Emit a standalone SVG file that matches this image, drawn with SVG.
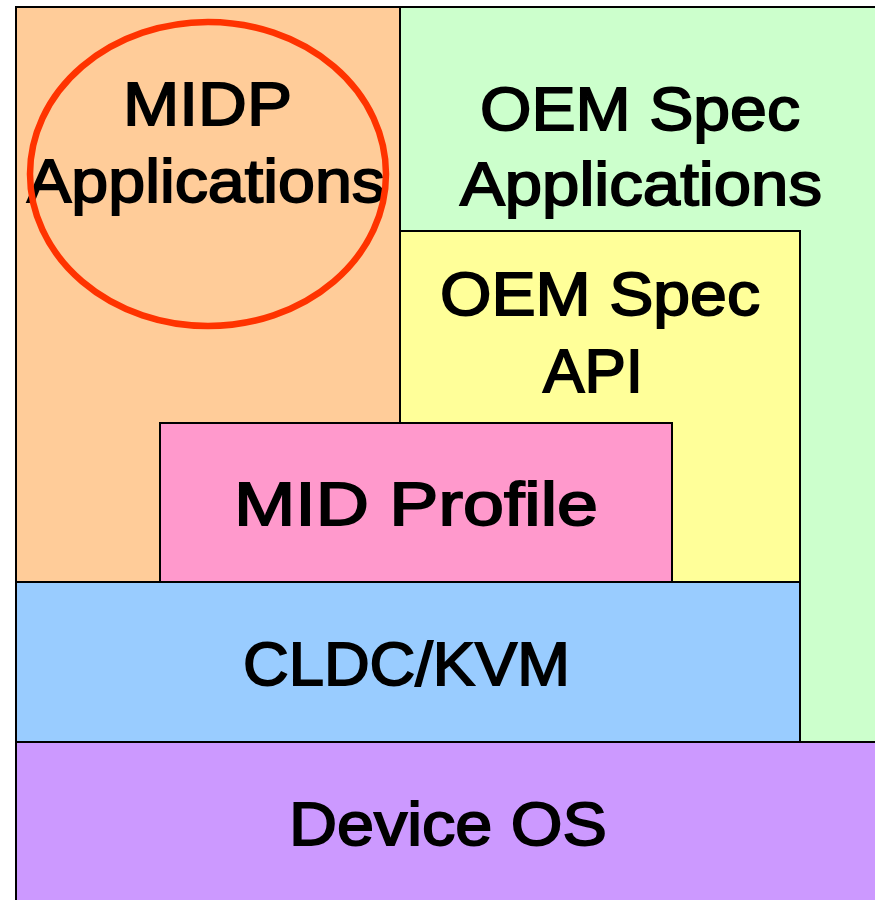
<svg xmlns="http://www.w3.org/2000/svg" width="875" height="900" viewBox="0 0 875 900">
<style>
.box{stroke:#000;stroke-width:2}
.t{font-family:"Liberation Sans",Arial,sans-serif;font-size:62px;fill:#000;stroke:#000;stroke-width:1.8}
</style>
<rect width="875" height="900" fill="#fff"/>
<g id="midp-apps">
<rect class="box" x="16" y="7" width="384" height="575" fill="#ffcc99"/>
</g>
<g id="oem-apps">
<rect class="box" x="400" y="7" width="480" height="735" fill="#ccffcc"/>
<text class="t" x="480" y="130" textLength="320" lengthAdjust="spacingAndGlyphs">OEM Spec</text>
<text class="t" x="460" y="205" textLength="362" lengthAdjust="spacingAndGlyphs">Applications</text>
</g>
<g id="oem-api">
<rect class="box" x="400" y="231" width="400" height="351" fill="#ffff99"/>
<text class="t" x="440" y="315" textLength="320" lengthAdjust="spacingAndGlyphs">OEM Spec</text>
<text class="t" x="543" y="392" textLength="100" lengthAdjust="spacingAndGlyphs">API</text>
</g>
<g id="mid-profile">
<rect class="box" x="160" y="423" width="512" height="159" fill="#ff99cc"/>
<text class="t" x="234" y="525" textLength="364" lengthAdjust="spacingAndGlyphs">MID Profile</text>
</g>
<g id="cldc">
<rect class="box" x="16" y="582" width="784" height="160" fill="#99ccff"/>
<text class="t" x="243" y="685" textLength="327" lengthAdjust="spacingAndGlyphs">CLDC/KVM</text>
</g>
<g id="device-os">
<rect class="box" x="16" y="742" width="870" height="170" fill="#cc99ff"/>
<text class="t" x="289" y="845" textLength="318" lengthAdjust="spacingAndGlyphs">Device OS</text>
</g>
<g id="midp-label">
<text class="t" x="123" y="125" textLength="169" lengthAdjust="spacingAndGlyphs">MIDP</text>
<text class="t" x="27" y="202" textLength="358" lengthAdjust="spacingAndGlyphs">Applications</text>
<ellipse cx="208" cy="174" rx="178" ry="152" fill="none" stroke="#ff3300" stroke-width="6.5"/>
</g>
</svg>
